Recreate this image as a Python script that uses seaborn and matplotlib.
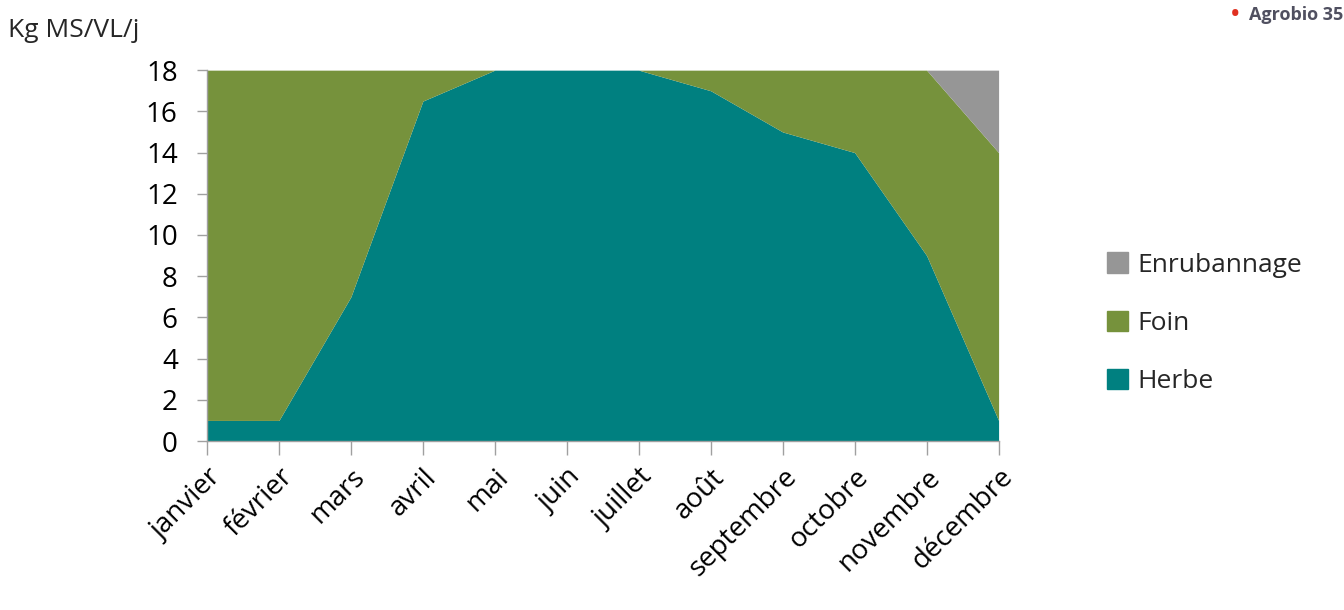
import matplotlib
matplotlib.use("Agg")
import matplotlib.pyplot as plt
import matplotlib.patches as mpatches
import seaborn as sns

# données (kg MS / VL / jour)
mois = ['janvier', 'février', 'mars', 'avril', 'mai', 'juin', 'juillet',
        'août', 'septembre', 'octobre', 'novembre', 'décembre']
herbe = [1, 1, 7, 16.5, 18, 18, 18, 17, 15, 14, 9, 1]
foin = [17, 17, 11, 1.5, 0, 0, 0, 1, 3, 4, 9, 13]
enrubannage = [0, 0, 0, 0, 0, 0, 0, 0, 0, 0, 0, 4]

couleurs = {'Herbe': '#008080', 'Foin': '#76923C', 'Enrubannage': '#969696'}

sns.set_theme(style="white")
plt.rcParams['font.family'] = ['Open Sans', 'DejaVu Sans']

fig = plt.figure(figsize=(13.44, 6.1), dpi=100)
ax = fig.add_axes([0.154, 0.277, 0.589, 0.608])

x = list(range(len(mois)))
ax.stackplot(x, herbe, foin, enrubannage,
             colors=[couleurs['Herbe'], couleurs['Foin'], couleurs['Enrubannage']],
             linewidth=0)

ax.set_xlim(0, len(mois) - 1)
ax.set_ylim(0, 18)
ax.set_yticks(range(0, 19, 2))
ax.set_xticks(x)
ax.set_xticklabels(mois, rotation=45, ha='right', rotation_mode='anchor')
ax.tick_params(axis='both', labelsize=20, colors='black')
ax.tick_params(axis='x', direction='out', length=10, width=1, color='#A0A0A0', pad=6)
ax.tick_params(axis='y', direction='out', length=7, width=1, color='#A0A0A0', pad=14)
ax.tick_params(bottom=True, left=True)

for s in ['top', 'right']:
    ax.spines[s].set_visible(False)
for s in ['left', 'bottom']:
    ax.spines[s].set_color('#A0A0A0')
    ax.spines[s].set_linewidth(1)

fig.text(0.006, 0.95, 'Kg MS/VL/j', fontsize=19, ha='left', va='center')

# légende (ordre inversé : Enrubannage en haut)
handles = [mpatches.Patch(color=couleurs[k], label=k)
           for k in ['Enrubannage', 'Foin', 'Herbe']]
fig.legend(handles=handles, loc='center left', bbox_to_anchor=(0.806, 0.47),
           frameon=False, fontsize=19, handlelength=0.8, handleheight=0.8,
           handletextpad=0.35, labelspacing=1.25)

# logo
fig.text(0.916, 0.975, '•', color='#E03020', fontsize=16, ha='left', va='center',
         fontweight='bold')
fig.text(0.929, 0.975, 'Agrobio 35', color='#505060', fontsize=13, ha='left',
         va='center', fontweight='bold')

plt.savefig('out.png', dpi=100)
